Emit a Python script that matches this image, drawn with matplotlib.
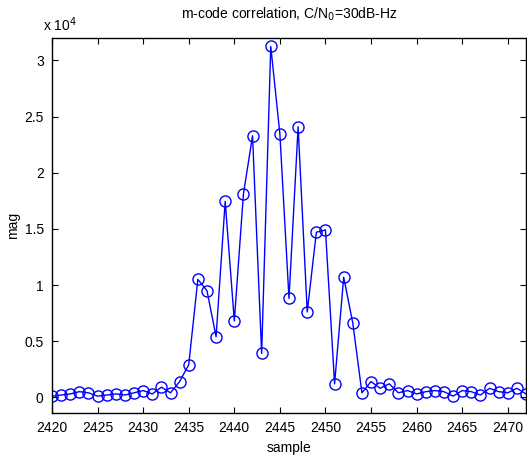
import numpy as np
import matplotlib
matplotlib.use("Agg")
from matplotlib import pyplot as plt

plt.rcParams["font.family"] = ["Liberation Sans", "DejaVu Sans"]

samples = list(range(2420, 2473))
mag = [0.01, 0.02, 0.03, 0.05, 0.04, 0.01, 0.02, 0.03, 0.02, 0.04,
       0.06, 0.03, 0.09, 0.04, 0.14, 0.29, 1.05, 0.95, 0.54, 1.745,
       0.68, 1.81, 2.33, 0.39, 3.125, 2.345, 0.88, 2.41, 0.76, 1.47,
       1.49, 0.12, 1.07, 0.66, 0.04, 0.14, 0.08, 0.12, 0.04, 0.06,
       0.03, 0.05, 0.06, 0.05, 0.01, 0.06, 0.05, 0.02, 0.08, 0.05,
       0.04, 0.08, 0.03]
yticks = [0, 0.5, 1, 1.5, 2, 2.5, 3]
ytick_labels = ["0", "0.5", "1", "1.5", "2", "2.5", "3"]
xticks = list(range(2420, 2475, 5))

fig = plt.figure(figsize=(5.27, 4.57), dpi=100)
ax = fig.add_axes([52 / 527, 1 - 413 / 457, 474 / 527, 375 / 457])
ax.plot(samples, mag, color="blue", linewidth=1, marker="o", markersize=8,
        markerfacecolor="none", markeredgecolor="blue", markeredgewidth=1)
ax.set_xlim(2420, 2472)
ax.set_ylim(-0.14, 3.2)
ax.set_xticks(xticks)
ax.set_yticks(yticks)
ax.set_yticklabels(ytick_labels)
ax.tick_params(direction="in", top=True, right=True, labelsize=10, length=4, pad=6)
for s in ax.spines.values():
    s.set_linewidth(1)
ax.set_xlabel("sample", fontsize=10, labelpad=4)
ax.set_ylabel("mag", fontsize=10, labelpad=3)
ax.set_title("m-code correlation, C/N$_0$=30dB-Hz", fontsize=10, pad=14)
fig.text(43 / 527, 1 - 25 / 457, "x 10$^4$", fontsize=10, va="center", ha="left")

fig.savefig("out.png", dpi=100)
